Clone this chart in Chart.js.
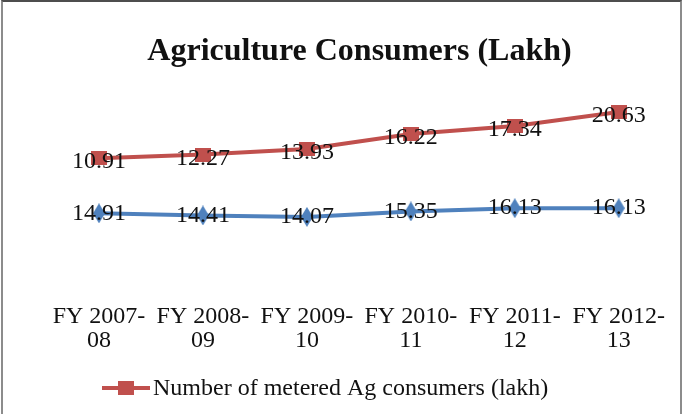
<!DOCTYPE html>
<html><head><meta charset="utf-8">
<script src="https://cdn.jsdelivr.net/npm/chart.js@4.4.1/dist/chart.umd.min.js"></script>
<style>
html,body{margin:0;padding:0;background:#fff;overflow:hidden;}
#wrap{position:relative;width:683px;height:414px;}
#frame{position:absolute;left:1px;top:0;width:681px;height:430px;box-sizing:border-box;border-top:2px solid #4d4d4d;border-left:2px solid #8c8c8c;border-right:2px solid #8c8c8c;pointer-events:none;}
canvas{position:absolute;left:0;top:0;}
</style></head><body>
<div id="wrap"><canvas id="c" width="683" height="414"></canvas><div id="frame"></div></div>
<script>
// ---- data ----
const categories = ['FY 2007-08', 'FY 2008-09', 'FY 2009-10', 'FY 2010-11', 'FY 2011-12', 'FY 2012-13'];
const meteredValues = [10.91, 12.27, 13.93, 16.22, 17.34, 20.63];
const otherValues = [14.91, 14.41, 14.07, 15.35, 16.13, 16.13];
const seriesNames = ['Number of metered Ag consumers (lakh)', 'Number of unmetered Ag consumers (lakh)'];
const chartTitle = 'Agriculture Consumers (Lakh)';

// ---- styles ----
const RED = '#C0504D', BLUE = '#4F81BD', TEXT = '#111111';
const FONT = 'Liberation Serif';

function makeSquare(w, h, color) {
  const c = document.createElement('canvas'); c.width = w; c.height = h;
  const x = c.getContext('2d'); x.fillStyle = color; x.fillRect(0, 0, w, h); return c;
}
function makeDiamond(w, h, color) {
  const c = document.createElement('canvas'); c.width = w; c.height = h;
  const x = c.getContext('2d'); x.fillStyle = color; x.beginPath();
  x.moveTo(w / 2, 0); x.lineTo(w, h / 2); x.lineTo(w / 2, h); x.lineTo(0, h / 2); x.closePath(); x.fill(); return c;
}
const redMarker = makeSquare(16, 14, RED);
const blueMarker = makeDiamond(12, 20, BLUE);

const valueLabels = {
  id: 'valueLabels',
  afterDatasetsDraw(chart) {
    const ctx = chart.ctx;
    ctx.save();
    ctx.font = '24px "' + FONT + '"';
    ctx.fillStyle = TEXT;
    ctx.textAlign = 'center';
    ctx.textBaseline = 'middle';
    chart.data.datasets.forEach((ds, i) => {
      if (!ds.showValues) return;
      const meta = chart.getDatasetMeta(i);
      meta.data.forEach((pt, j) => {
        ctx.fillText(ds.data[j].toFixed(2), pt.x, pt.y + (ds.valueOffsetY || 0));
      });
    });
    ctx.restore();
  }
};

const customLegend = {
  id: 'customLegend',
  afterDraw(chart, args, opts) {
    const ctx = chart.ctx;
    ctx.save();
    ctx.font = '24px "' + FONT + '"';
    ctx.textBaseline = 'middle';
    ctx.textAlign = 'left';
    opts.items.forEach((it, k) => {
      const y = opts.y + k * opts.rowGap;
      const x = opts.x;
      ctx.strokeStyle = it.color; ctx.lineWidth = 4;
      ctx.beginPath(); ctx.moveTo(x, y); ctx.lineTo(x + opts.lineLen, y); ctx.stroke();
      ctx.drawImage(it.marker, x + opts.lineLen / 2 - it.marker.width / 2, y - it.marker.height / 2);
      ctx.fillStyle = TEXT;
      ctx.fillText(it.text, x + opts.lineLen + 3, y + 1);
    });
    ctx.restore();
  }
};

new Chart(document.getElementById('c'), {
  type: 'line',
  data: {
    labels: categories.map(c => { const p = c.split('-'); return [p[0] + '-', p[1]]; }),
    datasets: [
      { label: 'stack base', data: otherValues, yAxisID: 'y', stack: 'a',
        borderColor: 'rgba(0,0,0,0)', pointRadius: 0, borderWidth: 0, fill: false },
      { label: seriesNames[0], data: meteredValues, yAxisID: 'y', stack: 'a',
        borderColor: RED, backgroundColor: RED, borderWidth: 4, pointStyle: redMarker,
        tension: 0, showValues: true, valueOffsetY: 4, fill: false },
      { label: seriesNames[1], data: otherValues, yAxisID: 'y2', stack: 'b',
        borderColor: BLUE, backgroundColor: BLUE, borderWidth: 4, pointStyle: blueMarker,
        tension: 0, showValues: true, valueOffsetY: 0, fill: false }
    ]
  },
  options: {
    responsive: false,
    devicePixelRatio: 1,
    animation: false,
    layout: { padding: { left: 47, right: 11, top: 0, bottom: 44 } },
    plugins: {
      legend: { display: false },
      tooltip: { enabled: false },
      title: {
        display: true, text: chartTitle, color: TEXT,
        font: { family: FONT, size: 32, weight: 'bold', lineHeight: 1.2 },
        padding: { top: 33, bottom: 27 }
      },
      customLegend: {
        x: 102, y: 388, lineLen: 48, rowGap: 32,
        items: [
          { text: seriesNames[0], color: RED, marker: redMarker }
        ]
      }
    },
    scales: {
      x: {
        offset: true,
        grid: { display: false, drawTicks: false },
        border: { display: false },
        ticks: { color: TEXT, font: { family: FONT, size: 24, lineHeight: 1.0 }, padding: 17, maxRotation: 0, autoSkip: false }
      },
      y: { display: false, stacked: true, min: -5, max: 40 },
      y2: { display: false, min: -2.81, max: 42.19 }
    }
  },
  plugins: [valueLabels, customLegend]
});
</script>
</body></html>
